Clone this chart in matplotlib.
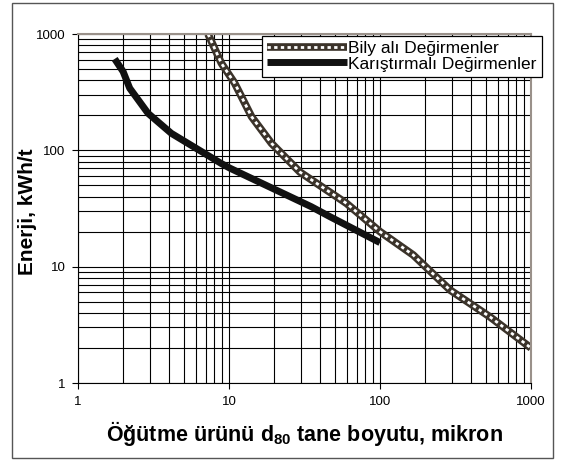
import matplotlib
matplotlib.use('Agg')
import matplotlib.pyplot as plt
from matplotlib.legend_handler import HandlerTuple
from matplotlib.patches import Rectangle
from matplotlib.ticker import FixedLocator, NullFormatter

plt.rcParams['font.family'] = 'Liberation Sans'
plt.rcParams['mathtext.fontset'] = 'custom'
plt.rcParams['mathtext.bf'] = 'Liberation Sans:bold'

# Bilyalı değirmen (ball mill) curve
ball_x = [7.26, 8.9, 10.9, 14.1, 19.1, 29.5, 60, 100, 166, 291, 535, 1000]
ball_y = [1000, 561, 378, 195, 115, 65, 35, 20, 12.6, 6.3, 3.7, 2.0]

# Karıştırmalı değirmen (stirred mill) curve
stir_x = [1.75, 1.99, 2.2, 2.91, 4.15, 8.9, 10.2, 35, 46.6, 100]
stir_y = [611, 475, 342, 208, 140, 77, 70, 32.8, 26.9, 16.1]

labels = ['Bily alı Değirmenler', 'Karıştırmalı Değirmenler']
ticks = [1, 10, 100, 1000]

fig = plt.figure(figsize=(5.64, 4.61), dpi=100)
ax = fig.add_axes([78/564, 1 - 383/461, (531 - 78)/564, (383 - 34)/461])

ax.set_xscale('log')
ax.set_yscale('log')
ax.set_xlim(1, 1000)
ax.set_ylim(1, 1000)

ax.grid(True, which='both', color='black', lw=0.8)
ax.set_axisbelow(True)

# ball mill: dark chain with white centres
b1, = ax.plot(ball_x, ball_y, color='#3b332a', lw=5.5, solid_capstyle='butt')
b2, = ax.plot(ball_x, ball_y, color='white', lw=2, dashes=(1.2, 1.2))
s1, = ax.plot(stir_x, stir_y, color='#111111', lw=5, solid_capstyle='butt')

ax.xaxis.set_major_locator(FixedLocator(ticks))
ax.yaxis.set_major_locator(FixedLocator(ticks))
ax.set_xticklabels([str(t) for t in ticks])
ax.set_yticklabels([str(t) for t in ticks])
ax.xaxis.set_minor_formatter(NullFormatter())
ax.yaxis.set_minor_formatter(NullFormatter())
ax.tick_params(which='major', direction='out', length=4, width=0.8, labelsize=9.5, pad=5)
ax.tick_params(which='minor', length=0)

for s in ['top', 'right']:
    ax.spines[s].set_color('#9a918a')
    ax.spines[s].set_linewidth(1.5)
for s in ['left', 'bottom']:
    ax.spines[s].set_color('black')

ax.set_xlabel(r'Öğütme ürünü $\mathbf{d_{80}}$ tane boyutu, mikron',
              fontsize=15.5, fontweight='bold', labelpad=8)
ax.set_ylabel('Enerji, kWh/t', fontsize=15, fontweight='bold')
ax.yaxis.set_label_coords(-0.09, 0.49)

leg = ax.legend([(b1, b2), s1], labels, handler_map={tuple: HandlerTuple(ndivide=1)},
                loc='upper left', bbox_to_anchor=(262/564, 1 - 36/461),
                bbox_transform=fig.transFigure, fontsize=12.5, handlelength=4.6,
                handletextpad=0.05, borderpad=0.3, labelspacing=0.0,
                borderaxespad=0, fancybox=False, framealpha=1, edgecolor='black')
leg.get_frame().set_linewidth(0.9)

fig.patches.append(Rectangle((12/564, 1 - 458/461), (553 - 12)/564, (458 - 3)/461,
                             transform=fig.transFigure, fill=False,
                             edgecolor='#555555', lw=1))

fig.savefig('out.png', dpi=100)
